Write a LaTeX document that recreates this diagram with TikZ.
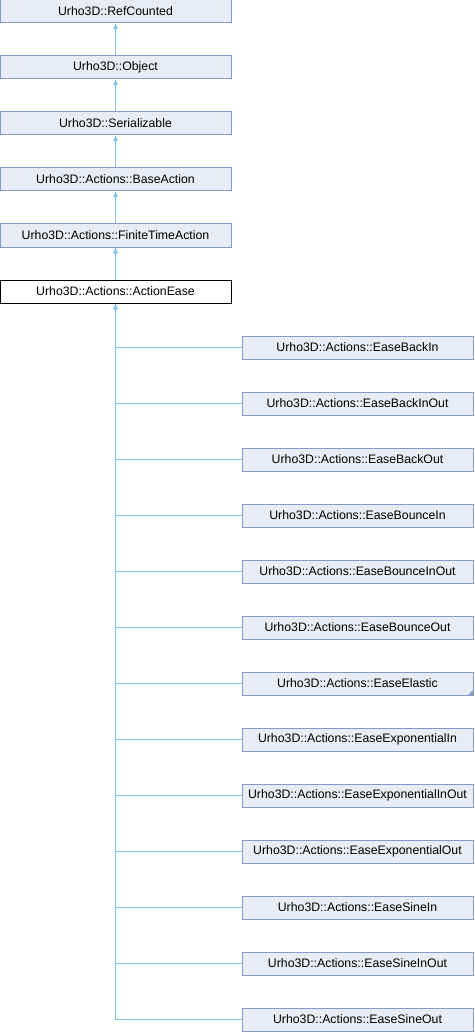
\documentclass[tikz,border=0pt]{standalone}
\usepackage{fontspec}
\setmainfont{Liberation Sans}
\usetikzlibrary{arrows.meta}
\definecolor{boxfill}{RGB}{232,236,244}
\definecolor{boxline}{RGB}{132,155,203}
\definecolor{edgeblue}{RGB}{135,198,236}
\tikzset{
	cls/.style={draw=boxline, fill=boxfill, line width=1pt, minimum width=231pt, minimum height=23pt, inner sep=0pt, font=\fontsize{12.3}{14}\selectfont},
	curcls/.style={cls, draw=black, fill=white},
	inherit/.style={draw=edgeblue, line width=1pt, -{Triangle[width=5pt,length=6pt]}},
	branch/.style={draw=edgeblue, line width=1pt}
}
\begin{document}
\begin{tikzpicture}[x=1pt, y=-1pt]
		%%%%% START %%%%%
		\useasboundingbox (0, 0) rectangle (474, 1032);
		
		\node[cls] (RefCounted) at (115.5, 11.5) {Urho3D::RefCounted};
		\node[cls] (Object) at (115.5, 67.5) {Urho3D::Object};
		\node[cls] (Serializable) at (115.5, 123.5) {Urho3D::Serializable};
		\node[cls] (BaseAction) at (115.5, 179.5) {Urho3D::Actions::BaseAction};
		\node[cls] (FiniteTimeAction) at (115.5, 235.5) {Urho3D::Actions::FiniteTimeAction};
		\node[curcls] (ActionEase) at (115.5, 291.5) {Urho3D::Actions::ActionEase};
		
		\draw[inherit] (Object) -- (RefCounted);
		\draw[inherit] (Serializable) -- (Object);
		\draw[inherit] (BaseAction) -- (Serializable);
		\draw[inherit] (FiniteTimeAction) -- (BaseAction);
		\draw[inherit] (ActionEase) -- (FiniteTimeAction);
		
		\node[cls] (EaseBackIn) at (357.5, 347.5) {Urho3D::Actions::EaseBackIn};
		\node[cls] (EaseBackInOut) at (357.5, 403.5) {Urho3D::Actions::EaseBackInOut};
		\node[cls] (EaseBackOut) at (357.5, 459.5) {Urho3D::Actions::EaseBackOut};
		\node[cls] (EaseBounceIn) at (357.5, 515.5) {Urho3D::Actions::EaseBounceIn};
		\node[cls] (EaseBounceInOut) at (357.5, 571.5) {Urho3D::Actions::EaseBounceInOut};
		\node[cls] (EaseBounceOut) at (357.5, 627.5) {Urho3D::Actions::EaseBounceOut};
		\node[cls] (EaseElastic) at (357.5, 683.5) {Urho3D::Actions::EaseElastic};
		\node[cls] (EaseExponentialIn) at (357.5, 739.5) {Urho3D::Actions::EaseExponentialIn};
		\node[cls] (EaseExponentialInOut) at (357.5, 795.5) {Urho3D::Actions::EaseExponentialInOut};
		\node[cls] (EaseExponentialOut) at (357.5, 851.5) {Urho3D::Actions::EaseExponentialOut};
		\node[cls] (EaseSineIn) at (357.5, 907.5) {Urho3D::Actions::EaseSineIn};
		\node[cls] (EaseSineInOut) at (357.5, 963.5) {Urho3D::Actions::EaseSineInOut};
		\node[cls] (EaseSineOut) at (357.5, 1019.5) {Urho3D::Actions::EaseSineOut};
		
		% corner mark of EaseElastic
		\fill[boxline] (EaseElastic.south east) -- ++(-6, 0) -- ++(6, -6) -- cycle;
		
		\draw[inherit] (ActionEase.south |- EaseSineOut.west) -- (ActionEase.south);
		\draw[branch] (ActionEase.south |- EaseSineOut.west) -- (EaseSineOut.west);
		\draw[branch] (ActionEase.south |- EaseBackIn.west) -- (EaseBackIn.west);
		\draw[branch] (ActionEase.south |- EaseBackInOut.west) -- (EaseBackInOut.west);
		\draw[branch] (ActionEase.south |- EaseBackOut.west) -- (EaseBackOut.west);
		\draw[branch] (ActionEase.south |- EaseBounceIn.west) -- (EaseBounceIn.west);
		\draw[branch] (ActionEase.south |- EaseBounceInOut.west) -- (EaseBounceInOut.west);
		\draw[branch] (ActionEase.south |- EaseBounceOut.west) -- (EaseBounceOut.west);
		\draw[branch] (ActionEase.south |- EaseElastic.west) -- (EaseElastic.west);
		\draw[branch] (ActionEase.south |- EaseExponentialIn.west) -- (EaseExponentialIn.west);
		\draw[branch] (ActionEase.south |- EaseExponentialInOut.west) -- (EaseExponentialInOut.west);
		\draw[branch] (ActionEase.south |- EaseExponentialOut.west) -- (EaseExponentialOut.west);
		\draw[branch] (ActionEase.south |- EaseSineIn.west) -- (EaseSineIn.west);
		\draw[branch] (ActionEase.south |- EaseSineInOut.west) -- (EaseSineInOut.west);
		%%%%% END %%%%%
\end{tikzpicture}
\end{document}
